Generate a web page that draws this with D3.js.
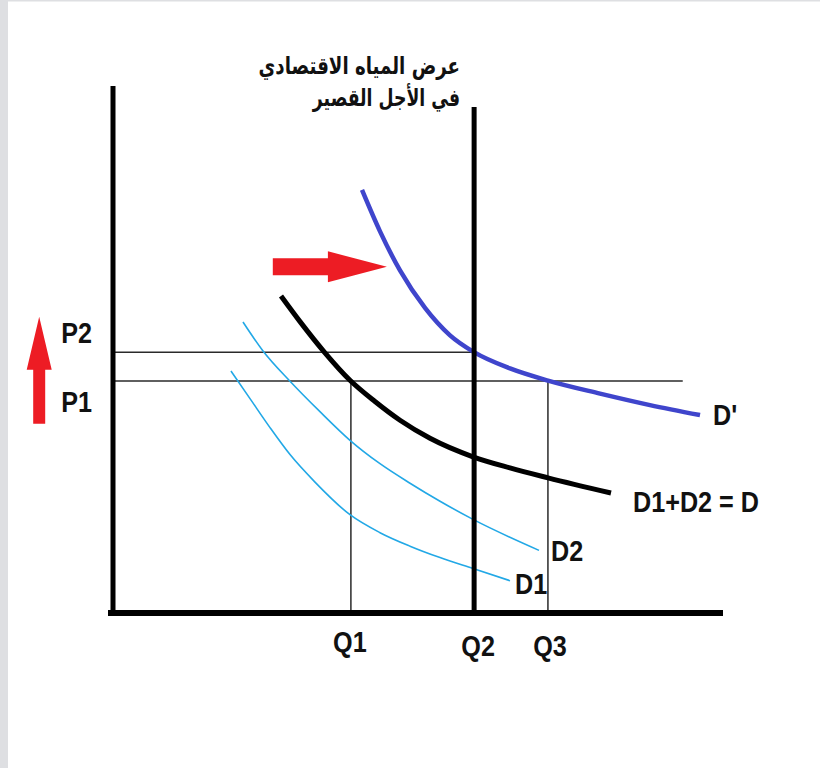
<!DOCTYPE html>
<html>
<head>
<meta charset="utf-8">
<script src="https://cdn.jsdelivr.net/npm/d3@7"></script>
<style>
  html, body { margin: 0; padding: 0; background: #fff; }
  svg { display: block; }
  .lbl { font-family: "Liberation Sans", Arial, sans-serif; font-weight: bold; font-size: 30px; fill: #111; }
  .title { font-family: "DejaVu Sans", sans-serif; font-weight: bold; font-size: 24px; fill: #111; }
</style>
</head>
<body>
<svg id="chart" width="820" height="768"></svg>
<script>
// ---- data (both axes 0..100) ----
const titleLines = ["عرض المياه الاقتصادي", "في الأجل القصير"];
const qNames = ["Q1", "Q2", "Q3"];
const qValues = [39, 59.2, 71.3];
const pNames = ["P1", "P2"];
const pValues = [44, 49.5];
const supplyTop = 96;
const p1LineEnd = 93.4;

const dPrimeQ = [40.82, 43.77, 47.05, 51.15, 55.25, 59.18, 65.08, 71.31, 79.84, 88.03, 96.23];
const dPrimeP = [80.27, 72.41, 65.01, 57.89, 52.68, 49.49, 46.41, 44.10, 41.63, 39.45, 37.55];

const dSumQ = [27.54, 30.66, 34.75, 38.85, 42.95, 47.05, 51.97, 59.02, 65.08, 71.31, 81.64];
const dSumP = [60.15, 55.29, 49.37, 44.16, 40.13, 36.57, 33.15, 29.64, 27.53, 25.65, 22.77];

const d2Q = [21.31, 24.59, 29.02, 33.93, 38.85, 43.77, 48.69, 53.61, 59.02, 69.84];
const d2P = [55.22, 49.72, 43.98, 38.20, 32.77, 28.33, 24.63, 21.21, 17.76, 11.88];

const d1Q = [19.34, 22.46, 25.74, 29.02, 33.11, 38.85, 43.77, 48.69, 53.61, 59.02, 65.08];
const d1P = [45.92, 40.68, 35.18, 30.06, 24.84, 18.65, 15.24, 12.68, 10.51, 8.44, 6.13];

const curveNames = ["D'", "D1+D2 = D", "D2", "D1"];

// arrows: [q, p] from tail to tip
const arrowUp = [[-12.1, 35.9], [-12.1, 56.2]];
const arrowRight = [[26.2, 65.7], [44.9, 65.7]];

// ---- layout ----
const svg = d3.select("#chart");
const x = d3.scaleLinear().domain([0, 100]).range([113, 723]);
const y = d3.scaleLinear().domain([0, 100]).range([613, 86]);

// page frame
svg.append("rect").attr("x", 0).attr("y", 0).attr("width", 820).attr("height", 768).attr("fill", "#fff");
svg.append("rect").attr("x", 0).attr("y", 0).attr("width", 8).attr("height", 768).attr("fill", "#dedfe2");
svg.append("rect").attr("x", 0).attr("y", 0).attr("width", 820).attr("height", 1.5).attr("fill", "#dedfe2");

const thin = "#2a2a2a";

// price guide lines
svg.append("line").attr("x1", x(0)).attr("x2", x(qValues[1])).attr("y1", y(pValues[1])).attr("y2", y(pValues[1]))
  .attr("stroke", thin).attr("stroke-width", 1.5);
svg.append("line").attr("x1", x(0)).attr("x2", x(p1LineEnd)).attr("y1", y(pValues[0])).attr("y2", y(pValues[0]))
  .attr("stroke", thin).attr("stroke-width", 1.5);
// quantity guides
[0, 2].forEach(i => {
  svg.append("line").attr("x1", x(qValues[i])).attr("x2", x(qValues[i])).attr("y1", y(pValues[0])).attr("y2", y(0))
    .attr("stroke", thin).attr("stroke-width", 1.5);
});

// curves
const line = d3.line().x(d => x(d[0])).y(d => y(d[1])).curve(d3.curveMonotoneX);
const zip = (a, b) => a.map((v, i) => [v, b[i]]);

svg.append("path").attr("d", line(zip(d1Q, d1P))).attr("fill", "none").attr("stroke", "#22a8e6").attr("stroke-width", 1.6);
svg.append("path").attr("d", line(zip(d2Q, d2P))).attr("fill", "none").attr("stroke", "#22a8e6").attr("stroke-width", 1.6);
svg.append("path").attr("d", line(zip(dSumQ, dSumP))).attr("fill", "none").attr("stroke", "#000").attr("stroke-width", 5);
svg.append("path").attr("d", line(zip(dPrimeQ, dPrimeP))).attr("fill", "none").attr("stroke", "#3f45cc").attr("stroke-width", 4.5);

// supply line (vertical at Q2)
svg.append("line").attr("x1", x(qValues[1])).attr("x2", x(qValues[1])).attr("y1", y(supplyTop)).attr("y2", y(0) + 2)
  .attr("stroke", "#000").attr("stroke-width", 5);

// axes
svg.append("line").attr("x1", x(0)).attr("x2", x(0)).attr("y1", y(100)).attr("y2", y(0) + 3)
  .attr("stroke", "#000").attr("stroke-width", 5);
svg.append("line").attr("x1", x(0) - 5).attr("x2", x(100)).attr("y1", y(0)).attr("y2", y(0))
  .attr("stroke", "#000").attr("stroke-width", 6);

// condensed label helper
function label(px, py, txt, anchor) {
  svg.append("g").attr("transform", `translate(${px},${py}) scale(0.84,1)`)
    .append("text").attr("class", "lbl").attr("x", 0).attr("y", 0)
    .attr("text-anchor", anchor || "start").text(txt);
}

// Q labels
label(x(qValues[0]) - 1, y(0) + 39, qNames[0], "middle");
label(x(qValues[1]) + 4, y(0) + 43, qNames[1], "middle");
label(x(qValues[2]) + 2, y(0) + 43, qNames[2], "middle");
// P labels
label(92, y(pValues[1]) - 9, pNames[1], "end");
label(92, y(pValues[0]) + 31, pNames[0], "end");

// curve labels
const lastPt = (q, p) => [x(q[q.length - 1]), y(p[p.length - 1])];
let e = lastPt(dPrimeQ, dPrimeP);
label(e[0] + 13, e[1] + 10, curveNames[0]);
e = lastPt(dSumQ, dSumP);
label(e[0] + 22, e[1] + 19, curveNames[1]);
e = lastPt(d2Q, d2P);
label(e[0] + 12, e[1] + 11, curveNames[2]);
e = lastPt(d1Q, d1P);
label(e[0] + 5, e[1] + 13, curveNames[3]);

// title (right-aligned above the supply line)
svg.append("g").attr("transform", "translate(460,74) scale(0.76,1)")
  .append("text").attr("class", "title").attr("text-anchor", "end").text(titleLines[0]);
svg.append("g").attr("transform", "translate(460,106) scale(0.72,1)")
  .append("text").attr("class", "title").attr("text-anchor", "end").text(titleLines[1]);

// arrows
function arrowPath(tail, tip, shaftW, headW, headL) {
  const x0 = x(tail[0]), y0 = y(tail[1]), x1 = x(tip[0]), y1 = y(tip[1]);
  const dx = x1 - x0, dy = y1 - y0, L = Math.hypot(dx, dy);
  const ux = dx / L, uy = dy / L, nx = -uy, ny = ux;
  const bx = x1 - ux * headL, by = y1 - uy * headL;
  const p = (px, py) => px.toFixed(1) + "," + py.toFixed(1);
  return "M" + [
    p(x0 + nx * shaftW / 2, y0 + ny * shaftW / 2),
    p(bx + nx * shaftW / 2, by + ny * shaftW / 2),
    p(bx + nx * headW / 2, by + ny * headW / 2),
    p(x1, y1),
    p(bx - nx * headW / 2, by - ny * headW / 2),
    p(bx - nx * shaftW / 2, by - ny * shaftW / 2),
    p(x0 - nx * shaftW / 2, y0 - ny * shaftW / 2)
  ].join("L") + "Z";
}
svg.append("path").attr("d", arrowPath(arrowUp[0], arrowUp[1], 12, 25, 53)).attr("fill", "#ed1c24");
svg.append("path").attr("d", arrowPath(arrowRight[0], arrowRight[1], 17, 31, 59)).attr("fill", "#ed1c24");
</script>
</body>
</html>
